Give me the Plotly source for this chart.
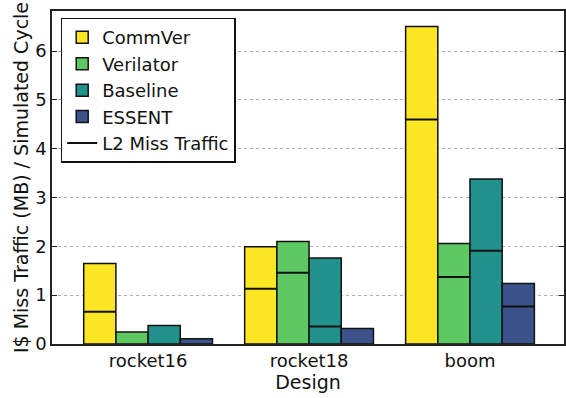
import plotly.graph_objects as go

designs = ["rocket16", "rocket18", "boom"]
simulators = ["CommVer", "Verilator", "Baseline", "ESSENT"]
colors = ["#fde725", "#5ec962", "#21918c", "#3b528b"]

# I$ miss traffic (MB) per simulated cycle, per simulator across designs
total_traffic = {
    "CommVer":   [1.65, 1.99, 6.50],
    "Verilator": [0.245, 2.10, 2.06],
    "Baseline":  [0.38, 1.76, 3.38],
    "ESSENT":    [0.11, 0.32, 1.24],
}
# portion of the traffic that misses in L2
l2_traffic = {
    "CommVer":   [0.66, 1.13, 4.60],
    "Verilator": [None, 1.46, 1.37],
    "Baseline":  [None, 0.36, 1.91],
    "ESSENT":    [None, None, 0.77],
}

bar_w = 0.2
font = "DejaVu Sans, Liberation Sans, sans-serif"

fig = go.Figure()
line_x, line_y = [], []
for j, name in enumerate(simulators):
    offs = (j - 1.5) * bar_w
    xs = [i + offs for i in range(len(designs))]
    fig.add_trace(go.Bar(
        x=xs, y=total_traffic[name], width=bar_w, name=name,
        marker=dict(color=colors[j], line=dict(color="#111", width=1.5)),
    ))
    for xc, v in zip(xs, l2_traffic[name]):
        if v is not None:
            line_x += [xc - bar_w / 2, xc + bar_w / 2, None]
            line_y += [v, v, None]

fig.add_trace(go.Scatter(
    x=line_x, y=line_y, mode="lines", name="L2 Miss Traffic",
    line=dict(color="#111", width=2), connectgaps=False,
))

fig.update_layout(
    width=566, height=398,
    margin=dict(l=52, r=0, t=11, b=54),
    plot_bgcolor="white", paper_bgcolor="white",
    font=dict(family=font, size=16, color="#111"),
    barmode="overlay",
    showlegend=True,
    legend=dict(
        x=0.017, y=0.98, xanchor="left", yanchor="top",
        bordercolor="#111", borderwidth=1.5, bgcolor="white",
        font=dict(size=18), traceorder="normal",
    ),
)
fig.update_xaxes(
    range=[-0.597, 2.584],
    tickmode="array", tickvals=list(range(len(designs))), ticktext=designs,
    tickfont=dict(size=18),
    showgrid=False, zeroline=False,
    showline=True, linecolor="#222", linewidth=1.5, mirror=True,
    ticks="", title=dict(text="Design", standoff=4, font=dict(size=19)),
)
fig.update_yaxes(
    range=[0, 6.82], tickvals=[0, 1, 2, 3, 4, 5, 6],
    tickfont=dict(size=18),
    showgrid=True, gridcolor="#b0b0b0", griddash="dot", gridwidth=1,
    zeroline=False,
    showline=True, linecolor="#222", linewidth=1.5, mirror="ticks",
    ticks="inside", ticklen=5, tickcolor="#222",
    title=dict(text="I$ Miss Traffic (MB) / Simulated Cycle", standoff=2,
               font=dict(size=19)),
)

fig.write_html("out.html")
